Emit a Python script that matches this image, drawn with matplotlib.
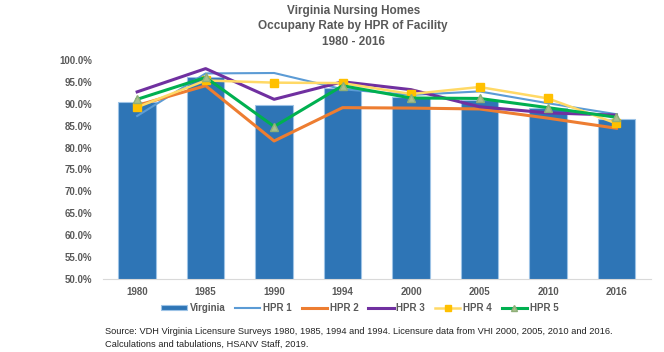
import numpy as np
from matplotlib import pyplot as plt

years = ['1980', '1985', '1990', '1994', '2000', '2005', '2010', '2016']
virginia = [90.5, 96.1, 89.6, 93.5, 91.6, 90.9, 89.0, 86.4]
hpr1 = [87.2, 96.9, 97.0, 93.3, 92.0, 92.8, 90.1, 87.6]
hpr2 = [89.6, 94.1, 81.5, 89.1, 89.0, 88.8, 86.7, 84.4]
hpr3 = [92.7, 98.0, 91.0, 95.0, 93.2, 89.3, 87.9, 87.4]
hpr4 = [89.2, 95.3, 94.8, 94.7, 92.2, 93.8, 91.2, 85.5]
hpr5 = [91.0, 96.0, 84.8, 94.1, 91.3, 91.2, 89.1, 86.9]

plt.rcParams['font.family'] = ['Liberation Sans', 'DejaVu Sans']
grey = '#595959'

fig = plt.figure(figsize=(6.64, 3.52), dpi=100)
ax = fig.add_axes([0.155, 0.207, 0.825, 0.623])

x = np.arange(len(years))
bars = ax.bar(x, virginia, width=0.55, color='#2E75B6', edgecolor='#9DC3E6', linewidth=0.8,
              label='Virginia', zorder=2)
l1, = ax.plot(x, hpr1, color='#5B9BD5', lw=1.5, label='HPR 1', zorder=3)
l2, = ax.plot(x, hpr2, color='#ED7D31', lw=2.2, label='HPR 2', zorder=3)
l3, = ax.plot(x, hpr3, color='#7030A0', lw=2.2, label='HPR 3', zorder=3)
l4, = ax.plot(x, hpr4, color='#FFD966', lw=1.8, marker='s', ms=5.5, mfc='#FFC000', mec='#FFC000',
              label='HPR 4', zorder=4)
l5, = ax.plot(x, hpr5, color='#00B050', lw=2.2, marker='^', ms=6, mfc='#A9C08E', mec='#8FAF78',
              label='HPR 5', zorder=5)

ax.set_ylim(50, 100)
ax.set_xlim(-0.5, len(years) - 0.5)
ax.set_yticks(np.arange(50, 100.1, 5))
ax.set_yticklabels(['%.1f%%' % v for v in np.arange(50, 100.1, 5)])
ax.set_xticks(x)
ax.set_xticklabels(years)
ax.tick_params(axis='y', length=0, labelsize=7, colors=grey, pad=8)
ax.tick_params(axis='x', length=0, labelsize=7, colors=grey, pad=6)
for lab in ax.get_xticklabels() + ax.get_yticklabels():
    lab.set_fontweight('bold')
for s in ['top', 'right', 'left']:
    ax.spines[s].set_visible(False)
ax.spines['bottom'].set_color('#D9D9D9')

fig.text(0.532, 0.985, 'Virginia Nursing Homes\nOccupany Rate by HPR of Facility\n1980 - 2016',
         ha='center', va='top', fontsize=8.5, fontweight='bold', color=grey, linespacing=1.35)

fig.legend([bars, l1, l2, l3, l4, l5], ['Virginia', 'HPR 1', 'HPR 2', 'HPR 3', 'HPR 4', 'HPR 5'],
           loc='center', bbox_to_anchor=(0.542, 0.125), ncol=6, frameon=False,
           handlelength=2.6, columnspacing=1.0, handletextpad=0.3, handleheight=0.5,
           markerscale=0.7, labelcolor=grey, prop={'weight': 'bold', 'size': 7})

fig.text(0.158, 0.04, 'Source: VDH Virginia Licensure Surveys 1980, 1985, 1994 and 1994. '
         'Licensure data from VHI 2000, 2005, 2010 and 2016.\n'
         'Calculations and tabulations, HSANV Staff, 2019.',
         ha='left', va='center', fontsize=6.7, color='#222222', linespacing=1.5)

fig.savefig('out.png', dpi=100)
